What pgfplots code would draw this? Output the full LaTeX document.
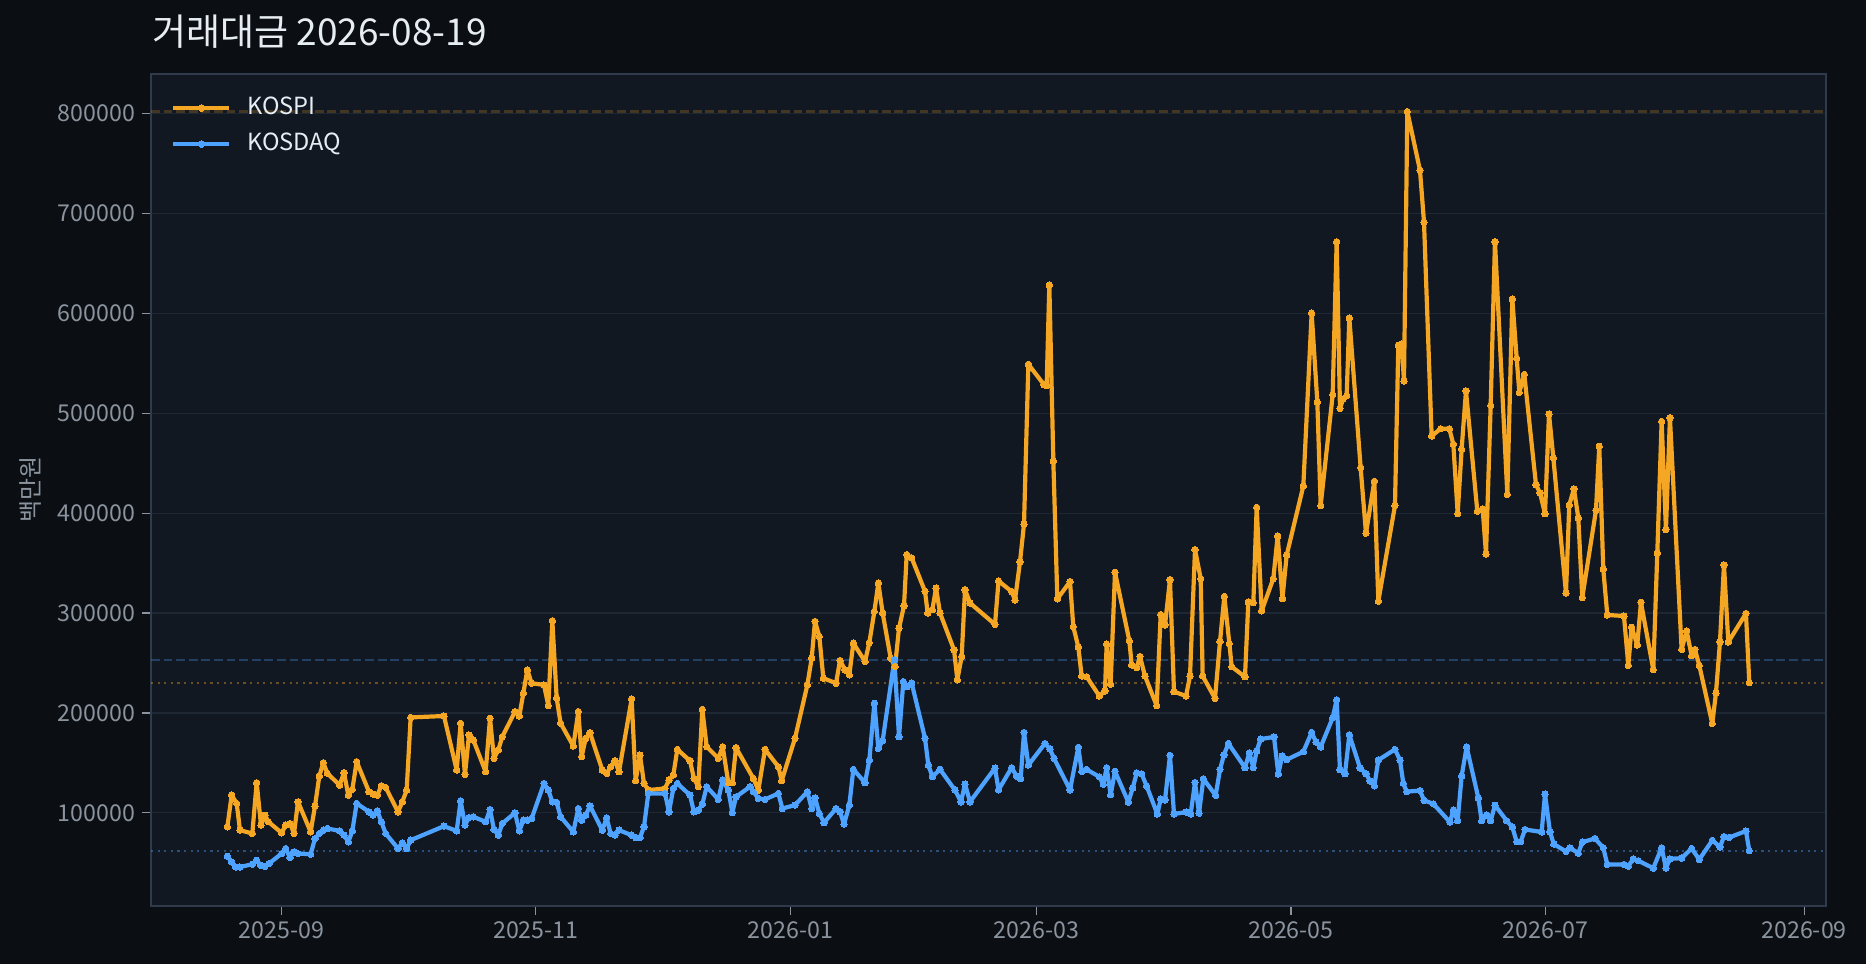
\documentclass[border=0pt]{standalone}
\usepackage{fontspec}
\setmainfont{Noto Sans CJK KR}
\usepackage{pgfplots}
\usepackage{pgfplotstable}
\pgfplotsset{compat=1.18}
\definecolor{outerbg}{HTML}{0B0F14}
\definecolor{axbg}{HTML}{111822}
\definecolor{framec}{HTML}{2F3B4A}
\definecolor{gridc}{HTML}{1E2835}
\definecolor{tickc}{HTML}{8B949E}
\definecolor{titlec}{HTML}{E6EDF3}
\definecolor{kospi}{HTML}{F5A623}
\definecolor{kosdaq}{HTML}{4DA3FF}

% x = days since 2025-09-01
\pgfplotstableread{
x y
-12.95 85900
-11.91 117700
-10.71 109400
-9.92 82600
-6.96 79300
-5.92 130100
-4.88 87600
-3.92 97600
-3.12 91000
0.07 79900
1.03 87600
2.07 89300
3.03 79300
3.99 111000
7.02 80900
8.06 106700
9.10 136800
10.06 150200
11.02 139500
13.97 127700
15.01 140100
16.05 117700
17.01 123400
18.05 151200
21.00 121100
21.96 118700
23.00 117700
23.96 127100
25.00 125400
27.96 101000
29.00 111000
30.03 122700
30.99 195500
38.98 196900
42.02 142800
42.97 189600
44.01 138400
44.97 177900
46.01 172900
48.97 141100
50.01 194600
50.96 154500
52.00 162800
52.96 176200
56.00 201300
57.04 196900
58.00 219700
58.95 243100
59.99 229700
62.95 228000
63.99 207300
64.95 292300
65.99 214700
66.94 189600
69.98 166900
71.18 201300
71.98 156200
72.94 174500
73.97 180200
76.93 142800
77.97 139400
78.93 146100
79.97 152100
80.93 141100
83.96 214000
84.92 132100
85.96 157800
86.92 129400
87.96 122700
91.95 124400
92.91 132800
93.95 137800
94.91 163500
97.94 152100
98.90 134400
99.94 126100
100.90 203600
101.95 166200
104.74 154500
105.78 166200
107.14 130100
108.10 130100
108.98 165200
113.13 134400
114.33 122700
115.93 163500
119.13 146100
119.92 132100
123.12 174600
126.08 228100
127.12 254800
127.91 291600
128.95 276600
129.91 234800
132.95 229700
133.91 252500
135.11 243100
136.14 238100
137.10 269800
139.90 251500
140.94 270500
142.14 301600
143.10 330000
144.13 300000
146.05 254800
147.09 246400
148.05 284900
149.25 307300
149.89 358500
151.09 355100
154.28 321700
154.92 300000
156.04 303300
156.92 325000
157.88 300000
161.23 263200
162.03 233100
163.07 256500
163.87 323400
165.07 310000
171.06 288600
171.90 332100
175.05 321500
175.85 313000
177.05 351200
178.01 389100
179.05 549000
182.80 528600
183.44 527500
184.08 628400
185.04 452200
186.00 314100
189.04 331500
189.83 286300
191.03 265900
191.83 236900
193.03 236200
196.07 216900
197.42 222100
197.82 268800
198.78 228700
199.82 340800
203.26 272200
203.82 248000
205.02 245400
205.81 256600
207.01 236900
209.81 207200
210.77 298500
211.81 288100
213.00 333400
213.96 221300
216.84 216900
217.80 236900
219.00 363500
220.36 334500
220.84 236900
223.79 214600
224.99 271400
226.03 316700
227.23 269600
227.79 246200
230.98 236200
231.78 311100
232.98 310400
233.78 405800
234.98 302200
237.77 334500
238.81 377200
239.96 314500
240.97 358000
244.96 427100
246.96 600200
248.32 511200
249.12 407600
252.00 518500
252.95 671700
253.75 504900
254.55 514600
255.35 517500
255.99 595300
258.70 445600
259.98 379900
261.98 431900
262.94 311800
266.93 407600
267.73 568100
268.53 569600
269.09 532100
269.89 802000
272.93 743200
273.89 691100
275.72 477200
277.88 484500
279.96 484500
280.92 468900
281.96 399400
282.91 464000
283.95 522400
286.67 401800
287.95 404200
288.75 359000
289.87 507800
290.90 671700
293.86 418800
295.06 614300
296.10 555000
296.74 520900
297.93 538900
300.73 428500
301.69 420300
302.89 399400
303.85 499200
304.89 455400
307.92 320000
308.71 408300
309.83 424300
310.87 395300
311.83 315500
315.11 402800
315.90 467000
316.86 344100
317.82 298100
321.82 297000
322.86 247600
323.65 285800
325.01 268000
325.89 310700
328.85 243200
329.81 360100
330.85 491800
331.88 383500
332.84 495500
335.64 263600
336.84 282100
338.04 257300
338.84 263600
339.87 247600
342.99 189400
343.87 219800
344.83 271000
345.79 348200
346.83 271000
351.06 299600
351.86 230200
}\kospi

\pgfplotstableread{
x y
-12.95 56500
-11.91 50800
-10.95 45800
-9.92 45800
-6.96 48500
-5.92 52500
-4.96 47500
-3.92 46500
-2.96 49200
0.07 59200
1.03 64200
2.07 55200
3.03 60900
3.99 59200
7.02 58500
8.06 74200
9.10 79300
10.06 82600
11.02 84300
13.97 81900
15.01 77600
16.05 70900
17.01 81900
18.05 109400
21.00 101000
21.96 97600
23.00 102000
23.96 91000
25.00 79300
27.96 64200
29.00 69900
30.03 64200
30.99 72600
38.98 86600
42.02 81900
42.97 112000
44.01 87600
44.97 95300
46.01 96000
48.97 91000
50.01 103300
50.96 83300
52.00 77600
52.96 89300
56.00 100000
57.04 81900
58.00 92600
58.95 92600
59.99 94300
62.95 129400
63.99 122700
64.95 111000
65.99 110400
66.94 96000
69.98 80900
71.18 104300
71.98 92600
72.94 97600
73.97 107000
76.93 82600
77.97 94900
78.93 79300
79.97 77600
80.93 82600
83.96 77600
84.92 75200
85.96 75200
86.92 85900
87.96 119400
91.95 119400
92.91 101000
93.95 124400
94.91 129400
97.94 117700
98.90 101000
99.94 102700
100.90 108700
101.95 126100
104.74 113400
105.78 132800
107.14 122700
108.10 100300
108.98 116000
112.33 126100
113.13 121100
114.33 114400
115.93 113400
119.13 119400
120.08 104300
123.12 107700
126.08 121100
127.12 104300
127.91 115000
128.95 99300
130.07 90000
132.95 104300
133.91 101000
134.87 88600
136.14 107700
137.10 143500
139.90 130100
140.94 152800
142.14 209700
143.10 164500
144.13 172200
146.93 253200
148.05 176200
149.09 231400
150.05 226400
151.09 229800
154.28 174600
155.08 147800
156.04 136100
157.88 143500
161.47 122700
162.91 111000
163.87 128700
165.07 111000
171.06 144800
171.90 122900
175.05 145200
176.25 136700
177.21 134100
178.01 180500
179.05 147800
183.04 169400
184.24 163800
185.20 154500
189.04 123000
191.03 165600
191.83 141500
193.03 143400
196.07 136000
197.02 128500
197.82 145200
198.78 118100
199.82 141500
203.02 110700
204.06 124800
205.02 139700
206.21 138900
207.41 126700
209.97 98800
210.77 113700
211.81 112900
213.00 157500
213.96 98800
216.84 100700
217.96 98800
219.00 130400
219.96 99600
221.00 134100
223.95 117400
224.99 143400
225.95 158200
226.99 169400
230.98 145200
232.02 160100
232.98 145200
233.78 161900
234.74 173800
237.93 176000
238.97 138900
239.90 157000
241.00 153300
244.96 161100
246.96 180500
248.00 170800
249.12 165900
252.00 195100
252.95 213100
253.75 143100
254.95 139200
255.99 178100
258.55 145000
259.98 139200
260.94 131900
261.98 127000
262.94 152800
266.93 163500
268.13 152800
268.93 129500
269.73 121200
272.93 122200
273.89 112500
276.12 109000
280.12 90600
280.92 102700
281.96 92000
282.91 136800
284.11 165900
286.91 114900
287.71 92000
288.91 97900
289.87 92000
290.90 107600
293.70 92000
295.06 85700
296.10 71100
297.06 71100
298.10 83300
302.09 80800
302.89 118800
304.09 80800
305.00 68700
307.92 61300
308.87 65000
310.87 59500
311.83 70600
314.87 74300
316.86 65000
317.82 48300
321.82 48300
322.86 46500
324.05 53900
325.25 52000
328.85 44600
330.85 65000
331.88 44600
332.84 53900
335.64 54600
338.04 64300
339.87 53200
342.99 72500
344.83 65800
345.79 76200
347.07 75400
351.06 81700
351.86 62100
}\kosdaq

\begin{document}
\begin{tikzpicture}
\path[use as bounding box, fill=outerbg] (-75.5pt,-29pt) rectangle (857.5pt,453pt);
\begin{axis}[
  at={(0pt,0pt)}, anchor=south west,
  width=837.5pt, height=416.15pt, scale only axis,
  xmin=-31.25, xmax=370.25, ymin=6700, ymax=839900,
  axis background/.style={fill=axbg},
  axis line style={draw=framec, line width=0.9pt},
  xtick={0,61,122,181,242,303,365},
  xticklabels={2025-09,2025-11,2026-01,2026-03,2026-05,2026-07,2026-09},
  ytick={100000,200000,300000,400000,500000,600000,700000,800000},
  yticklabels={100000,200000,300000,400000,500000,600000,700000,800000},
  scaled y ticks=false, scaled x ticks=false,
  xtick pos=bottom, ytick pos=left,
  tick align=outside, major tick length=4.5pt,
  tick style={draw=tickc, line width=0.6pt},
  ymajorgrids, grid style={draw=gridc, line width=0.6pt},
  ticklabel style={font=\fontsize{11.6}{13}\selectfont, text=tickc},
  ylabel={백만원},
  ylabel style={at={(axis description cs:-0.0722,0.5)}, anchor=center,
    font=\fontsize{12}{14}\selectfont, text=tickc},
  legend image code/.code={\draw[mark repeat=2,mark phase=2,#1] plot coordinates {(0pt,0pt) (14pt,0pt) (28pt,0pt)};},
  legend style={at={(0,1)}, anchor=north west, xshift=10pt, yshift=-11pt,
    draw=none, fill=none, inner sep=0pt, row sep=6pt, column sep=8pt,
    font=\fontsize{11.8}{14}\selectfont, text=titlec,
    nodes={inner sep=0pt, text height=9pt, text depth=3pt}},
  legend cell align=left,
]
\addplot[forget plot, draw=kospi, draw opacity=0.22, line width=1.1pt, dash pattern=on 4.4pt off 1.9pt] coordinates {(-31.25,802000) (370.25,802000)};
\addplot[forget plot, draw=kospi, draw opacity=0.4, line width=1.1pt, dash pattern=on 1.1pt off 2.2pt] coordinates {(-31.25,230200) (370.25,230200)};
\addplot[forget plot, draw=kosdaq, draw opacity=0.3, line width=1.1pt, dash pattern=on 4.4pt off 1.9pt] coordinates {(-31.25,253200) (370.25,253200)};
\addplot[forget plot, draw=kosdaq, draw opacity=0.4, line width=1.1pt, dash pattern=on 1.1pt off 2.2pt] coordinates {(-31.25,62100) (370.25,62100)};
\addplot[kospi, line width=2.1pt, mark=*, mark size=1.6pt, mark options={solid, fill=kospi, draw=kospi, line width=0pt}, line join=round] table[x=x,y=y] {\kospi};
\addlegendentry{KOSPI}
\addplot[kosdaq, line width=2.1pt, mark=*, mark size=1.6pt, mark options={solid, fill=kosdaq, draw=kosdaq, line width=0pt}, line join=round] table[x=x,y=y] {\kosdaq};
\addlegendentry{KOSDAQ}
\end{axis}
\node[anchor=base west, font=\fontsize{18.5}{22}\selectfont, text=titlec, inner sep=0pt] at (0.5pt,430.15pt) {거래대금 2026-08-19};
\end{tikzpicture}
\end{document}
